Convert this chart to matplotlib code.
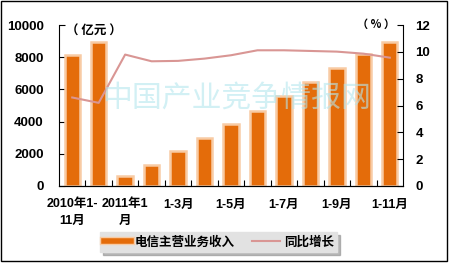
import matplotlib
matplotlib.use('Agg')
import matplotlib.pyplot as plt
from matplotlib.lines import Line2D
from matplotlib.patches import Rectangle
import matplotlib.patheffects as pe

plt.rcParams['font.family'] = ['Liberation Sans', 'Noto Sans CJK SC', 'DejaVu Sans']

# --- data ---
periods = ['2010年1-11月', '2010年1-12月', '2011年1月', '1-2月', '1-3月', '1-4月', '1-5月',
           '1-6月', '1-7月', '1-8月', '1-9月', '1-10月', '1-11月']
tick_labels = ['2010年1-\n11月', '', '2011年1\n月', '', '1-3月', '', '1-5月',
               '', '1-7月', '', '1-9月', '', '1-11月']
revenue = [8130, 8960, 640, 1320, 2190, 2980, 3850, 4670, 5610, 6440, 7310, 8200, 8960]
growth = [6.6, 6.2, 9.8, 9.3, 9.33, 9.5, 9.75, 10.12, 10.12, 10.07, 10.02, 9.87, 9.57]

ORANGE = '#E46C0A'
PEACH = '#F8CBA4'
PINK = '#D99694'
CJK = ['Noto Sans CJK SC', 'DejaVu Sans']

fig = plt.figure(figsize=(4.49, 2.64), dpi=100)
fig.patch.set_facecolor('white')
# outer frame
fig.add_artist(Rectangle((0.003, 0.013), 0.992, 0.982, transform=fig.transFigure,
                         fill=False, edgecolor='black', linewidth=1.0))

ax = fig.add_axes([0.1314, 0.2955, 0.7662, 0.6095])
x = list(range(len(periods)))
ax.bar(x, revenue, width=0.58, color=ORANGE, edgecolor=PEACH, linewidth=1.8, zorder=2)
ax.set_xlim(-0.5, len(periods) - 0.5)
ax.set_ylim(0, 10000)
ax.set_yticks(range(0, 10001, 2000))
ax.tick_params(axis='y', direction='in', length=4, pad=11, labelsize=9.5)
for t in ax.get_yticklabels():
    t.set_fontweight('bold')

# category boundary ticks, labels at centres
ax.set_xticks([i + 0.5 for i in range(len(periods) - 1)])
ax.set_xticklabels([])
ax.tick_params(axis='x', which='major', direction='in', length=4)
ax.set_xticks(x, minor=True)
ax.set_xticklabels(tick_labels, minor=True, fontsize=9, fontweight='bold', linespacing=1.45)
ax.tick_params(axis='x', which='minor', length=0, pad=9)
for t in ax.get_xticklabels(minor=True):
    t.set_verticalalignment('top')

ax.spines['top'].set_visible(False)
ax.spines['right'].set_visible(False)

ax2 = ax.twinx()
ax2.plot(x, growth, color=PINK, linewidth=1.5, solid_joinstyle='round', zorder=3)
ax2.set_ylim(0, 12)
ax2.set_yticks(range(0, 13, 2))
ax2.tick_params(axis='y', direction='in', length=4, pad=9, labelsize=9.5)
for t in ax2.get_yticklabels():
    t.set_fontweight('bold')
ax2.spines['top'].set_visible(False)
ax2.spines['left'].set_visible(False)

# unit labels
fig.text(0.148, 0.882, '（ 亿元 ）', fontsize=9, fontweight='bold', va='center', ha='left',
         family=CJK)
fig.text(0.880, 0.907, '（ % ）', fontsize=8, fontweight='bold', va='center', ha='right',
         family=CJK)

# watermark
fig.text(0.527, 0.63, '中国产业竞争情报网', fontsize=21.5, color='#B4E6EE', alpha=0.6,
         ha='center', va='center', style='italic', zorder=10, family=CJK)

# legend
handles = [
    Line2D([], [], color=ORANGE, linewidth=4,
           path_effects=[pe.Stroke(linewidth=6, foreground=PEACH), pe.Normal()]),
    Line2D([], [], color=PINK, linewidth=1.5),
]
leg = fig.legend(handles, ['电信主营业务收入', '同比增长'], loc='center',
                 bbox_to_anchor=(0.487, 0.083), ncol=2, frameon=True, fancybox=False,
                 shadow={'color': '#8C8C8C', 'alpha': 0.6}, handlelength=2.2,
                 columnspacing=1.4, handletextpad=0.3, borderpad=0.3,
                 prop={'family': CJK, 'weight': 'bold', 'size': 9})
leg.get_frame().set_facecolor('#E2E2E2')
leg.get_frame().set_edgecolor('#E2E2E2')

fig.savefig('out.png', dpi=100, facecolor='white')
